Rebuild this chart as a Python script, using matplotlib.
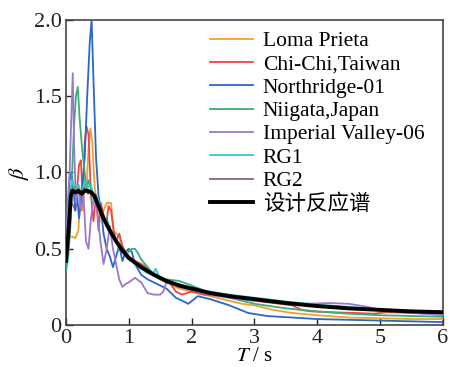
import matplotlib
matplotlib.use("Agg")
import matplotlib.pyplot as plt

plt.rcParams['font.family'] = ['Liberation Serif', 'Noto Sans CJK SC']
plt.rcParams['mathtext.fontset'] = 'stix'

labels = ["Loma Prieta", "Chi-Chi,Taiwan", "Northridge-01", "Niigata,Japan",
          "Imperial Valley-06", "RG1", "RG2", "设计反应谱"]
colors = ["#f0a030", "#f04545", "#2a66cc", "#35b070", "#9a78d0", "#35c8c8", "#8c6464", "#000000"]

T_loma = [0, 0.03, 0.06, 0.1, 0.15, 0.2, 0.23, 0.27, 0.3, 0.33, 0.36, 0.39, 0.42, 0.46, 0.5, 0.55,
          0.6, 0.65, 0.72, 0.76, 0.8, 0.85, 0.9, 0.95, 1.0, 1.1, 1.2, 1.3, 1.4, 1.5, 1.6, 1.8, 2.0,
          2.2, 2.5, 2.8, 3.0, 3.3, 3.6, 4.0, 4.5, 5.0, 5.5, 6.0]
b_loma = [0.38, 0.5, 0.58, 0.58, 0.57, 0.62, 0.85, 0.75, 0.95, 0.9, 1.15, 1.29, 1.2, 0.9, 0.8, 0.72,
          0.75, 0.8, 0.8, 0.62, 0.6, 0.58, 0.5, 0.47, 0.45, 0.42, 0.4, 0.38, 0.33, 0.3, 0.28, 0.24, 0.22,
          0.2, 0.17, 0.14, 0.13, 0.1, 0.08, 0.065, 0.05, 0.045, 0.04, 0.04]

T_chichi = [0, 0.03, 0.06, 0.09, 0.12, 0.15, 0.18, 0.21, 0.24, 0.27, 0.3, 0.33, 0.36, 0.4, 0.44, 0.48,
            0.52, 0.56, 0.6, 0.64, 0.68, 0.72, 0.76, 0.8, 0.85, 0.9, 0.95, 1.0, 1.1, 1.2, 1.35, 1.5,
            1.65, 1.75, 1.85, 2.0, 2.2, 2.5, 2.8, 3.2, 3.6, 3.75, 3.9, 4.2, 4.6, 4.9, 5.1, 5.5, 6.0]
b_chichi = [0.4, 0.65, 0.85, 0.8, 0.78, 0.75, 0.9, 1.05, 1.08, 0.8, 1.2, 1.3, 1.25, 0.85, 0.68, 0.85,
            0.62, 0.8, 0.72, 0.65, 0.78, 0.75, 0.62, 0.55, 0.6, 0.52, 0.48, 0.45, 0.42, 0.4, 0.35, 0.3,
            0.28, 0.22, 0.2, 0.22, 0.2, 0.19, 0.17, 0.15, 0.13, 0.1, 0.09, 0.085, 0.08, 0.075, 0.085, 0.08, 0.075]

T_north = [0, 0.03, 0.06, 0.09, 0.12, 0.15, 0.18, 0.21, 0.24, 0.27, 0.3, 0.34, 0.38, 0.41, 0.44, 0.48,
           0.52, 0.56, 0.6, 0.65, 0.7, 0.75, 0.8, 0.85, 0.9, 0.95, 1.0, 1.05, 1.1, 1.2, 1.3, 1.45, 1.6,
           1.75, 1.95, 2.1, 2.3, 2.6, 2.9, 3.2, 3.6, 4.0, 4.5, 5.0, 5.5, 6.0]
b_north = [0.42, 0.7, 0.95, 1.0, 0.9, 0.75, 0.85, 0.7, 0.8, 0.95, 1.1, 1.5, 1.85, 2.0, 1.6, 1.1,
           0.85, 0.75, 0.6, 0.5, 0.45, 0.38, 0.45, 0.52, 0.42, 0.48, 0.5, 0.48, 0.4, 0.33, 0.3, 0.27, 0.24,
           0.18, 0.14, 0.19, 0.17, 0.13, 0.08, 0.06, 0.05, 0.04, 0.035, 0.03, 0.025, 0.02]

T_niigata = [0, 0.04, 0.08, 0.1, 0.13, 0.16, 0.19, 0.22, 0.26, 0.3, 0.33, 0.36, 0.4, 0.45, 0.5, 0.55,
             0.6, 0.65, 0.7, 0.75, 0.8, 0.85, 0.9, 0.95, 1.0, 1.05, 1.1, 1.15, 1.2, 1.3, 1.4, 1.5, 1.6,
             1.8, 2.0, 2.3, 2.6, 3.0, 3.5, 4.0, 4.5, 5.0, 5.5, 6.0]
b_niigata = [0.35, 0.45, 0.7, 1.0, 1.3, 1.5, 1.56, 1.35, 1.15, 1.0, 0.88, 0.95, 0.9, 0.85, 0.8, 0.75,
             0.68, 0.7, 0.62, 0.6, 0.55, 0.5, 0.48, 0.46, 0.48, 0.5, 0.5, 0.47, 0.43, 0.38, 0.33, 0.31, 0.3,
             0.29, 0.26, 0.21, 0.18, 0.14, 0.11, 0.09, 0.075, 0.065, 0.06, 0.055]

T_imp = [0, 0.03, 0.06, 0.09, 0.11, 0.13, 0.16, 0.2, 0.24, 0.28, 0.32, 0.36, 0.4, 0.45, 0.5, 0.55,
         0.6, 0.65, 0.7, 0.75, 0.8, 0.85, 0.9, 0.95, 1.0, 1.1, 1.2, 1.3, 1.4, 1.5, 1.55, 1.6, 1.7,
         1.8, 2.0, 2.3, 2.6, 3.0, 3.4, 3.8, 4.2, 4.5, 4.8, 5.0, 5.5, 6.0]
b_imp = [0.5, 0.8, 1.0, 1.4, 1.65, 1.2, 0.8, 0.9, 0.75, 0.85, 0.55, 0.5, 0.7, 0.85, 0.75, 0.55,
         0.4, 0.5, 0.65, 0.5, 0.4, 0.3, 0.25, 0.27, 0.28, 0.31, 0.28, 0.21, 0.2, 0.2, 0.22, 0.28, 0.27,
         0.25, 0.23, 0.2, 0.18, 0.16, 0.15, 0.14, 0.145, 0.14, 0.12, 0.1, 0.08, 0.065]

T_rg1 = [0, 0.03, 0.06, 0.1, 0.15, 0.2, 0.25, 0.3, 0.35, 0.4, 0.45, 0.5, 0.55, 0.6, 0.7, 0.8, 0.9,
         1.0, 1.1, 1.2, 1.3, 1.38, 1.43, 1.5, 1.6, 1.8, 2.0, 2.3, 2.6, 3.0, 3.5, 4.0, 4.5, 5.0, 5.5, 6.0]
b_rg1 = [0.4, 0.6, 0.85, 0.95, 0.88, 0.92, 0.85, 0.95, 0.9, 0.92, 0.8, 0.85, 0.75, 0.72, 0.63, 0.56, 0.5,
         0.45, 0.4, 0.37, 0.34, 0.33, 0.37, 0.3, 0.28, 0.27, 0.24, 0.22, 0.2, 0.18, 0.155, 0.135, 0.12,
         0.105, 0.095, 0.09]

T_rg2 = [0, 0.04, 0.08, 0.12, 0.16, 0.2, 0.25, 0.3, 0.35, 0.4, 0.45, 0.5, 0.6, 0.7, 0.8, 0.9, 1.0,
         1.2, 1.4, 1.6, 1.8, 2.0, 2.3, 2.6, 3.0, 3.5, 4.0, 4.5, 5.0, 5.5, 6.0]
b_rg2 = [0.43, 0.62, 0.86, 0.9, 0.86, 0.89, 0.87, 0.9, 0.86, 0.88, 0.84, 0.79, 0.71, 0.61, 0.56, 0.48,
         0.45, 0.37, 0.34, 0.28, 0.27, 0.23, 0.215, 0.185, 0.175, 0.14, 0.13, 0.105, 0.1, 0.088, 0.085]

T_design = [0, 0.04, 0.08, 0.1, 0.15, 0.2, 0.25, 0.3, 0.35, 0.4, 0.45, 0.5, 0.6, 0.7, 0.8, 0.9, 1.0,
            1.2, 1.4, 1.6, 1.8, 2.0, 2.3, 2.6, 3.0, 3.5, 4.0, 4.5, 5.0, 5.5, 6.0]
b_design = [0.42, 0.6, 0.85, 0.88, 0.87, 0.88, 0.86, 0.88, 0.88, 0.87, 0.85, 0.80, 0.70, 0.62, 0.55,
            0.49, 0.44, 0.38, 0.33, 0.29, 0.26, 0.24, 0.21, 0.19, 0.17, 0.145, 0.125, 0.11, 0.10, 0.09, 0.085]

series = [(T_loma, b_loma), (T_chichi, b_chichi), (T_north, b_north), (T_niigata, b_niigata),
          (T_imp, b_imp), (T_rg1, b_rg1), (T_rg2, b_rg2), (T_design, b_design)]

xticks = [0, 1, 2, 3, 4, 5, 6]
yticks = [0, 0.5, 1.0, 1.5, 2.0]
ytick_labels = ["0", "0.5", "1.0", "1.5", "2.0"]

fig = plt.figure(figsize=(4.51, 3.67), dpi=100)
ax = fig.add_axes([0.146, 0.114, 0.836, 0.832])

for i, ((t, b), lab, c) in enumerate(zip(series, labels, colors)):
    lw = 2.8 if i == 7 else 1.3
    ax.plot(t, b, color=c, lw=lw, label=lab, zorder=3 + i)

ax.set_xlim(0, 6)
ax.set_ylim(0, 2.0)
ax.set_xticks(xticks)
ax.set_xticklabels([str(x) for x in xticks])
ax.set_yticks(yticks)
ax.set_yticklabels(ytick_labels)
ax.tick_params(direction='in', length=5, width=1.0, labelsize=16, colors='#222222')
ax.tick_params(axis='x', pad=3)
ax.tick_params(axis='y', pad=3)
for s in ax.spines.values():
    s.set_color('#444444')
    s.set_linewidth(1.2)

ax.set_xlabel(r"$T$ / s", fontsize=15, labelpad=-1)
ax.set_ylabel(r"$\beta$", fontsize=16, labelpad=2)

leg = ax.legend(loc='upper right', frameon=False, fontsize=15.5, handlelength=2.0,
                handletextpad=0.45, labelspacing=0.15, borderaxespad=0.2,
                bbox_to_anchor=(0.985, 1.005))

fig.savefig("out.png", dpi=100)
